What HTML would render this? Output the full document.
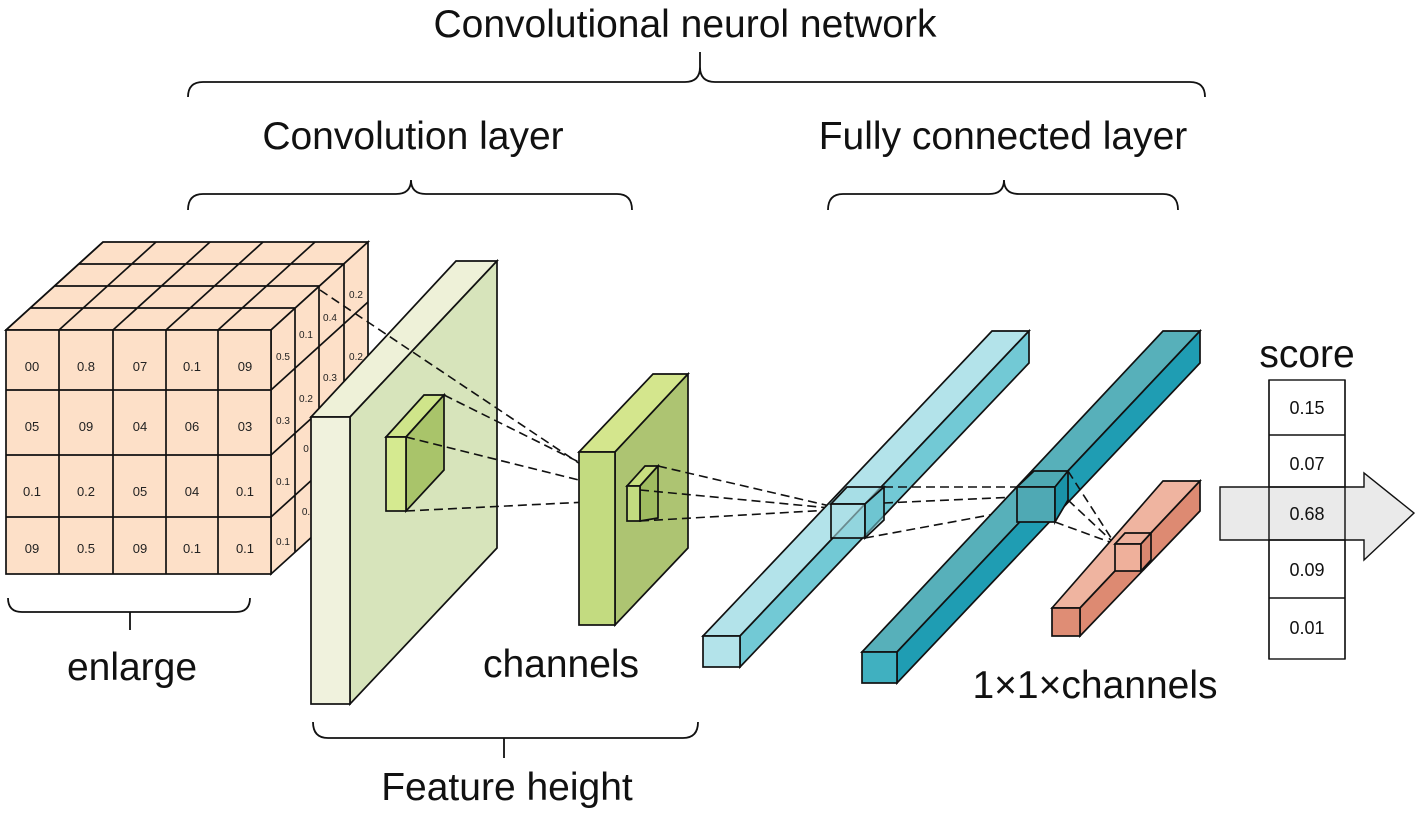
<!DOCTYPE html>
<html><head><meta charset="utf-8"><style>
html,body{margin:0;padding:0;background:#fff;}
svg{display:block;font-family:"Liberation Sans",sans-serif;}
.t{font-size:39px;fill:#111;text-anchor:middle;}
.n{font-size:13px;fill:#222;text-anchor:middle;}
.s{font-size:10px;fill:#222;text-anchor:middle;}
.d{stroke:#111;stroke-width:1.6;stroke-dasharray:9,5;fill:none;}
</style></head><body>
<svg width="1418" height="816" viewBox="0 0 1418 816" xmlns="http://www.w3.org/2000/svg">
<g fill="none" stroke="#111" stroke-width="1.8">
<path d="M188,97 Q188,82 203,82 L685,82 Q700,82 700,67 L700,52 M700,67 Q700,82 715,82 L1190,82 Q1205,82 1205,97"/>
<path d="M188,210 Q188,194 203,194 L396,194 Q411,194 411,180 M411,180 Q411,194 426,194 L617,194 Q632,194 632,210"/>
<path d="M828,210 Q828,194 843,194 L989,194 Q1004,194 1004,180 M1004,180 Q1004,194 1019,194 L1163,194 Q1178,194 1178,210"/>
<path d="M8,598 Q8,612 22,612 L236,612 Q250,612 250,598 M130,612 L130,630"/>
<path d="M313,722 Q313,738 328,738 L683,738 Q698,738 698,722 M504,738 L504,758"/>
</g>
<text class="t" x="685" y="37">Convolutional neurol network</text>
<text class="t" x="413" y="149">Convolution layer</text>
<text class="t" x="1003" y="149">Fully connected layer</text>
<text class="t" x="132" y="680">enlarge</text>
<text class="t" x="561" y="677">channels</text>
<text class="t" x="507" y="800">Feature height</text>
<text class="t" x="1095" y="698">1×1×channels</text>
<text class="t" x="1307" y="367">score</text>

<!-- cube -->
<g stroke="#111" stroke-width="1.7" fill="#fde0c8">
<polygon points="6,330 271,330 368,242 103,242"/>
<polygon points="271,330 368,242 368,486 271,574"/>
<rect x="6" y="330" width="265" height="244"/>
</g>
<g stroke="#111" stroke-width="1.7">
<path d="M59,330 L156,242 M113,330 L210,242 M166,330 L263,242 M218,330 L315,242 M6,330 L103,242
M30,308 L295,308 M54,286 L319,286 M79,264 L344,264
M295,308 L295,552 M319,286 L319,530 M344,264 L344,508
M271,390 L368,302 M271,455 L368,367 M271,517 L368,429
M59,330 L59,574 M113,330 L113,574 M166,330 L166,574 M218,330 L218,574
M6,390 L271,390 M6,455 L271,455 M6,517 L271,517"/>
</g>
<g class="n">
<text x="32" y="371">00</text><text x="86" y="371">0.8</text><text x="140" y="371">07</text><text x="192" y="371">0.1</text><text x="245" y="371">09</text>
<text x="32" y="431">05</text><text x="86" y="431">09</text><text x="140" y="431">04</text><text x="192" y="431">06</text><text x="245" y="431">03</text>
<text x="32" y="496">0.1</text><text x="86" y="496">0.2</text><text x="140" y="496">05</text><text x="192" y="496">04</text><text x="245" y="496">0.1</text>
<text x="32" y="553">09</text><text x="86" y="553">0.5</text><text x="140" y="553">09</text><text x="192" y="553">0.1</text><text x="245" y="553">0.1</text>
</g>
<g class="s">
<text x="283" y="360">0.5</text><text x="306" y="338">0.1</text><text x="330" y="321">0.4</text><text x="356" y="298">0.2</text>
<text x="283" y="424">0.3</text><text x="306" y="402">0.2</text><text x="330" y="381">0.3</text><text x="356" y="360">0.2</text>
<text x="283" y="485">0.1</text><text x="306" y="452">0</text>
<text x="283" y="545">0.1</text><text x="306" y="515">0.</text>
</g>

<!-- big green plane -->
<g stroke="#111" stroke-width="1.7">
<polygon points="311,417 456,261 497,261 350,417" fill="#eef1d8"/>
<polygon points="350,417 497,261 497,548 350,704" fill="#d7e4bb"/>
<rect x="311" y="417" width="39" height="287" fill="#f0f2dd"/>
<polygon points="386,437 424,395 444,395 406,437" fill="#cfe58a"/>
<polygon points="406,437 444,395 444,470 406,511" fill="#a9c46a"/>
<rect x="386" y="437" width="20" height="74" fill="#d5ea90"/>
</g>
<line class="d" x1="320" y1="290" x2="622" y2="492"/>
<line class="d" x1="444" y1="395" x2="627" y2="486"/>
<line class="d" x1="406" y1="437" x2="627" y2="492"/>
<line class="d" x1="406" y1="511" x2="627" y2="500"/>

<!-- small green block -->
<g stroke="#111" stroke-width="1.7">
<polygon points="579,452 653,374 688,374 615,452" fill="#d4e68d"/>
<polygon points="615,452 688,374 688,548 615,625" fill="#adc472"/>
<rect x="579" y="452" width="36" height="173" fill="#c3db80"/>
<polygon points="627,486 645,466 658,466 640,486" fill="#c8df80"/>
<polygon points="640,486 658,466 658,518 640,521" fill="#9fbb60"/>
<rect x="627" y="486" width="13" height="35" fill="#c3db80"/>
</g>
<line class="d" x1="658" y1="466" x2="830" y2="506"/>
<line class="d" x1="640" y1="490" x2="830" y2="508"/>
<line class="d" x1="640" y1="521" x2="830" y2="510"/>

<!-- light cyan bar -->
<g stroke="#111" stroke-width="1.7">
<polygon points="703,636 992,331 1029,331 740,636" fill="#b3e3ea"/>
<polygon points="740,636 1029,331 1029,363 740,667" fill="#72c9d5"/>
<rect x="703" y="636" width="37" height="31" fill="#b3e3ea"/>
<polygon points="831,504 847,487 884,487 865,504" fill="#9fdbe3" fill-opacity="0.6"/>
<rect x="831" y="504" width="34" height="34" fill="#a8dde5" fill-opacity="0.6"/>
<polygon points="865,504 884,487 884,520 865,538" fill="#6cc3cf" fill-opacity="0.6"/>
</g>
<line class="d" x1="884" y1="487" x2="1017" y2="487"/>
<line class="d" x1="884" y1="503" x2="1017" y2="497"/>
<line class="d" x1="865" y1="538" x2="1017" y2="510"/>

<!-- dark teal bar -->
<g stroke="#111" stroke-width="1.7">
<polygon points="862,652 1163,331 1200,331 897,652" fill="#57b0ba"/>
<polygon points="897,652 1200,331 1200,363 897,683" fill="#1f9db3"/>
<rect x="862" y="652" width="35" height="31" fill="#40b0c0"/>
<polygon points="1017,487 1034,471 1068,471 1055,487" fill="#4ea9b3"/>
<rect x="1017" y="487" width="38" height="35" fill="#4fa9b4"/>
<polygon points="1055,487 1068,471 1068,500 1055,522" fill="#1a93a8"/>
</g>
<line class="d" x1="1068" y1="471" x2="1115" y2="544"/>
<line class="d" x1="1055" y1="522" x2="1115" y2="544"/>
<line class="d" x1="1068" y1="500" x2="1115" y2="544"/>

<!-- salmon bar -->
<g stroke="#111" stroke-width="1.7">
<polygon points="1052,608 1163,481 1200,481 1080,608" fill="#efb4a0"/>
<polygon points="1080,608 1200,481 1200,511 1080,636" fill="#dd8a72"/>
<rect x="1052" y="608" width="28" height="28" fill="#df8d75"/>
<polygon points="1115,544 1125,533 1151,533 1141,544" fill="#eeb19d"/>
<rect x="1115" y="544" width="26" height="27" fill="#efb09b"/>
<polygon points="1141,544 1151,533 1151,560 1141,571" fill="#d98770"/>
</g>

<!-- score -->
<g stroke="#111" stroke-width="1.4">
<rect x="1269" y="380" width="76" height="279" fill="#fff"/>
<polygon points="1220,487 1364,487 1364,473 1414,513 1364,560 1364,540 1220,540" fill="#e6e6e6" fill-opacity="0.85"/>
<path d="M1269,435 H1345 M1269,487 H1345 M1269,540 H1345 M1269,598 H1345 M1269,380 V659 M1345,380 V659" fill="none"/>
</g>
<g font-size="18" fill="#111" text-anchor="middle">
<text x="1307" y="414">0.15</text><text x="1307" y="470">0.07</text><text x="1307" y="520">0.68</text><text x="1307" y="576">0.09</text><text x="1307" y="634">0.01</text>
</g>
</svg>
</body></html>
